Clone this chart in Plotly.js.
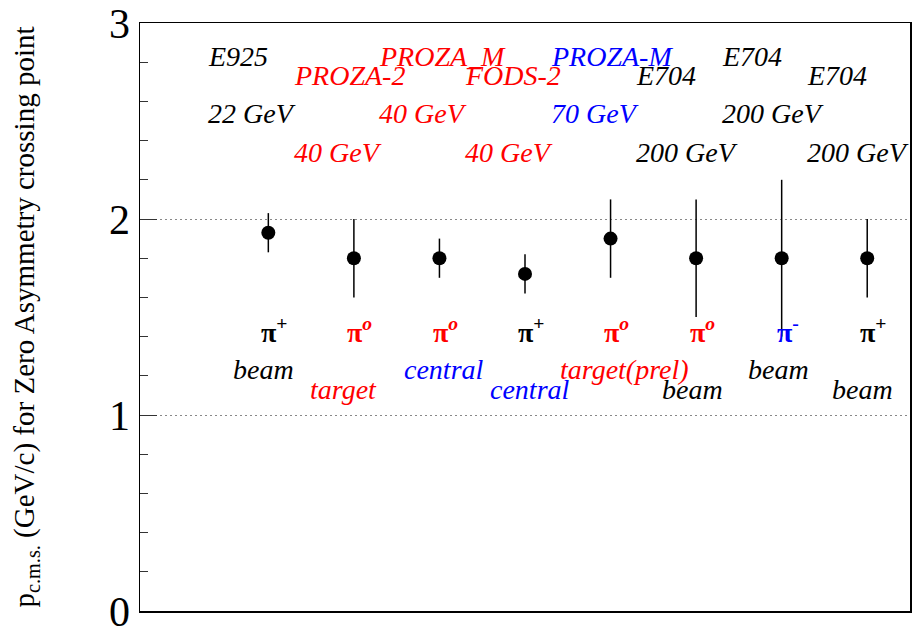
<!DOCTYPE html>
<html>
<head>
<meta charset="utf-8">
<script src="https://cdn.plot.ly/plotly-3.0.1.min.js"></script>
<style>html,body{margin:0;padding:0;background:#fff;}#chart{width:924px;height:626px;}</style>
</head>
<body>
<div id="chart"></div>
<script>
// ---- data ----
const pointIndex = [1, 2, 3, 4, 5, 6, 7, 8];
const pCross    = [1.93, 1.80, 1.80, 1.72, 1.90, 1.80, 1.80, 1.80];
const errUp     = [0.10, 0.20, 0.10, 0.10, 0.20, 0.30, 0.40, 0.20];
const errDown   = [0.10, 0.20, 0.10, 0.10, 0.20, 0.30, 0.40, 0.20];
const experiments = ["E925", "PROZA-2", "PROZA_M", "FODS-2", "PROZA-M", "E704", "E704", "E704"];
const energies    = ["22 GeV", "40 GeV", "40 GeV", "40 GeV", "70 GeV", "200 GeV", "200 GeV", "200 GeV"];
const particles   = ["π<sup>+</sup>", "π<sup><i>o</i></sup>", "π<sup><i>o</i></sup>", "π<sup>+</sup>",
                     "π<sup><i>o</i></sup>", "π<sup><i>o</i></sup>", "π<sup>-</sup>", "π<sup>+</sup>"];
const regions     = ["beam", "target", "central", "central", "target(prel)", "beam", "beam", "beam"];
const yTickVals   = [0, 1, 2, 3];
const yTickText   = ["0", "1", "2", "3"];

// ---- styles ----
const expColors    = ["black", "red", "red", "red", "blue", "black", "black", "black"];
const energyColors = ["black", "red", "red", "red", "blue", "black", "black", "black"];
const partColors   = ["black", "red", "red", "black", "red", "red", "blue", "black"];
const regionColors = ["black", "red", "blue", "blue", "red", "black", "black", "black"];
const regionShift  = [-34, -43, -34, -34, -50, -33, -33, -34];

const SERIF = "Liberation Serif";
const annotations = [];
pointIndex.forEach((xi, k) => {
  const odd = (k % 2 === 0);
  annotations.push({x: xi, y: odd ? 2.83 : 2.73, xref: 'x', yref: 'y',
    text: "<i>" + experiments[k] + "</i>",
    xanchor: 'left', yanchor: 'middle', xshift: -62, showarrow: false,
    font: {family: SERIF, size: 28, color: expColors[k]}});
  annotations.push({x: xi, y: odd ? 2.54 : 2.34, xref: 'x', yref: 'y',
    text: "<i>" + energies[k] + "</i>",
    xanchor: 'left', yanchor: 'middle', xshift: -62, showarrow: false,
    font: {family: SERIF, size: 28, color: energyColors[k]}});
  annotations.push({x: xi, y: 1.43, xref: 'x', yref: 'y', text: "<b>" + particles[k] + "</b>",
    xanchor: 'center', yanchor: 'middle', xshift: 6, showarrow: false,
    font: {family: SERIF, size: 28, color: partColors[k]}});
  annotations.push({x: xi, y: odd ? 1.23 : 1.13, xref: 'x', yref: 'y',
    text: "<i>" + regions[k] + "</i>",
    xanchor: 'left', yanchor: 'middle', xshift: regionShift[k] - 3, showarrow: false,
    font: {family: SERIF, size: 28, color: regionColors[k]}});
});

const trace = {
  x: pointIndex, y: pCross, type: 'scatter', mode: 'markers',
  marker: {color: 'black', size: 14, symbol: 'circle'},
  error_y: {type: 'data', symmetric: false, array: errUp, arrayminus: errDown,
            color: 'black', thickness: 1.5, width: 0},
  hoverinfo: 'skip', showlegend: false
};

const layout = {
  width: 924, height: 626,
  margin: {l: 140, r: 14, t: 23, b: 15},
  paper_bgcolor: 'white', plot_bgcolor: 'white',
  font: {family: SERIF, color: 'black'},
  showlegend: false,
  xaxis: {range: [-0.5, 8.5], showticklabels: false, ticks: '', showgrid: false, zeroline: false,
          showline: true, mirror: true, linecolor: 'black', linewidth: 1.5},
  yaxis: {range: [0, 3], tickvals: yTickVals, ticktext: yTickText, ticks: 'inside', ticklen: 17,
          tickwidth: 1, tickcolor: '#333',
          minor: {dtick: 0.2, ticks: 'inside', ticklen: 8, tickcolor: '#333', showgrid: false},
          showgrid: true, gridcolor: '#888', griddash: '2px,3px', gridwidth: 1, zeroline: false,
          showline: true, mirror: true, linecolor: 'black', linewidth: 1.5,
          tickfont: {family: SERIF, size: 42, color: 'black'},
          ticklabeloverflow: 'allow',
          automargin: false,
          title: {text: "p<sub>c.m.s.</sub> (GeV/c) for Zero Asymmetry crossing point",
                  font: {family: SERIF, size: 29, color: 'black'},
                  standoff: 66}},
  annotations: annotations
};

Plotly.newPlot('chart', [trace], layout, {displayModeBar: false, staticPlot: true});
</script>
</body>
</html>
